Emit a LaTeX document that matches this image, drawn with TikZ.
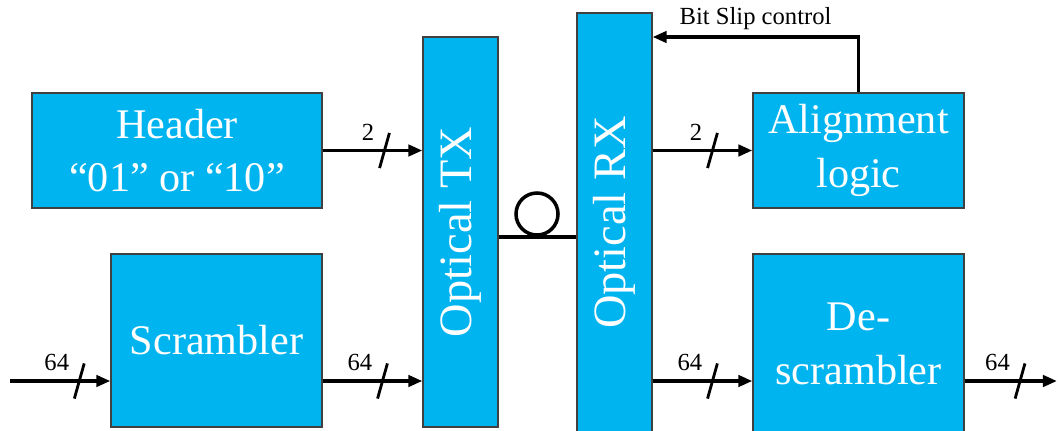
\documentclass[tikz,border=0pt]{standalone}
\usepackage{fontspec}
\setmainfont{Liberation Serif}
\usetikzlibrary{positioning,arrows.meta,decorations.markings}
\definecolor{blockblue}{RGB}{0,180,240}

\begin{document}
\begin{tikzpicture}[x=0.025cm,y=-0.025cm,
    block/.style={draw=black!75,line width=0.8pt,fill=blockblue,text=white,
      align=center,inner sep=0pt,font=\fontsize{30}{38}\selectfont},
    tall/.style={block,minimum width=1.875cm,font=\fontsize{33}{38}\selectfont},
    wire/.style={line width=2.5pt},
    arr/.style={wire,-{Triangle[length=10pt,width=8pt]}},
    bus/.style={postaction={decorate,decoration={markings,
      mark=at position #1 with {\draw[line width=2pt,-] (-3.5pt,-12.5pt) -- (3.5pt,12.5pt);}}}},
    lbl/.style={anchor=south east,inner sep=0pt,xshift=-6pt,yshift=6pt,
      font=\fontsize{17.5}{20}\selectfont}]
\useasboundingbox (0,0) rectangle (1058,430);

% transmitter side
\node[block,minimum width=7.25cm,minimum height=2.875cm] (hdr) at (177,150.5) {Header\\“01” or “10”};
\node[block,minimum width=5.275cm,minimum height=4.325cm] (scr) at (216.5,340.5) {Scrambler};
\node[tall,minimum height=9.75cm] (tx) at (460.5,232) {\rotatebox{90}{Optical TX}};

% receiver side
\node[tall,minimum height=10.475cm] (rx) at (614.5,222.5) {\rotatebox{90}{Optical RX}};
\node[block,minimum width=5.275cm,minimum height=2.875cm] (align) at (858.5,150.5) {Alignment\\logic};
\node[block,minimum width=5.275cm,minimum height=4.5cm] (desc) at (858.5,344) {De-\\scrambler};

\coordinate (in) at (10,381);
\coordinate (out) at (1057,381);
\coordinate (fiber) at (537,237);
\coordinate (fb) at (858,37);

% data paths
\draw[arr,bus=0.69] (in) -- node[lbl,pos=0.69] {64} (in -| scr.west);
\draw[arr,bus=0.62] (hdr.east) -- node[lbl,pos=0.62] {2} (hdr.east -| tx.west);
\draw[arr,bus=0.6] (in -| scr.east) -- node[lbl,pos=0.6] {64} (in -| tx.west);
\draw[arr,bus=0.6] (align.west -| rx.east) -- node[lbl,pos=0.6] {2} (align.west);
\draw[arr,bus=0.6] (in -| rx.east) -- node[lbl,pos=0.6] {64} (in -| desc.west);
\draw[arr,bus=0.6] (in -| desc.east) -- node[lbl,pos=0.6] {64} (out);

% fiber with loop
\draw[wire] (fiber -| tx.east) -- (fiber -| rx.west);
\draw[wire] (fiber) ++(0,-23) circle[radius=0.525cm];

% feedback
\draw[arr] (align.north) |- node[pos=0.75,above,inner sep=4pt,font=\fontsize{17.5}{20}\selectfont] {Bit Slip control} (fb -| rx.east);
\end{tikzpicture}
\end{document}
